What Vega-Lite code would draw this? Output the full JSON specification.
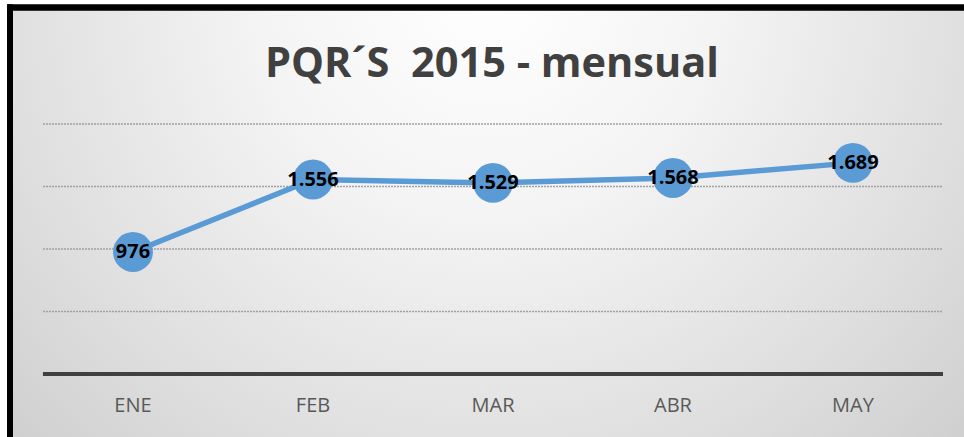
{
  "$schema": "https://vega.github.io/schema/vega-lite/v6.json",
  "width": 954,
  "height": 429.5,
  "autosize": {"type": "none"},
  "padding": {"left": 10, "top": 7.5, "right": 0, "bottom": 0},
  "background": "white",
  "config": {"view": {"stroke": null}, "font": "Open Sans"},
  "title": {
    "text": "PQR´S \u00a02015 - mensual",
    "orient": "top",
    "anchor": "middle",
    "offset": -68.5,
    "baseline": "alphabetic",
    "fontSize": 41.5,
    "fontWeight": "bold",
    "color": "#404040",
    "font": "Open Sans",
    "dx": 5,
    "dy": 46
  },
  "data": {
    "values": [
      {"mes": "ENE", "i": 0, "pqr": 976, "etiqueta": "976"},
      {"mes": "FEB", "i": 1, "pqr": 1556, "etiqueta": "1.556"},
      {"mes": "MAR", "i": 2, "pqr": 1529, "etiqueta": "1.529"},
      {"mes": "ABR", "i": 3, "pqr": 1568, "etiqueta": "1.568"},
      {"mes": "MAY", "i": 4, "pqr": 1689, "etiqueta": "1.689"}
    ]
  },
  "layer": [
    {
      "data": {"values": [{}]},
      "mark": {
        "type": "rect",
        "fill": {
          "gradient": "radial",
          "x1": 0.5, "y1": 0.25, "r1": 0,
          "x2": 0.5, "y2": 0.25, "r2": 0.8,
          "stops": [
            {"offset": 0, "color": "#ffffff"},
            {"offset": 0.3, "color": "#f4f4f4"},
            {"offset": 0.65, "color": "#dedede"},
            {"offset": 1, "color": "#c6c6c6"}
          ]
        }
      },
      "encoding": {}
    },
    {
      "data": {"values": [{"g": 500}, {"g": 1000}, {"g": 1500}, {"g": 2000}]},
      "mark": {"type": "rule", "color": "#a0a0a0", "strokeWidth": 1.5, "strokeDash": [2, 1]},
      "encoding": {
        "y": {"field": "g", "type": "quantitative", "scale": {"domain": [-504, 2932], "nice": false, "zero": false}, "axis": null},
        "x": {"datum": -0.5, "type": "quantitative", "scale": {"domain": [-0.6833, 4.6167], "nice": false, "zero": false}, "axis": null},
        "x2": {"datum": 4.5}
      }
    },
    {
      "mark": {"type": "rule", "color": "#404040", "strokeWidth": 4},
      "encoding": {
        "y": {"datum": 0, "type": "quantitative", "scale": {"domain": [-504, 2932], "nice": false, "zero": false}, "axis": null},
        "x": {"datum": -0.5, "type": "quantitative", "scale": {"domain": [-0.6833, 4.6167], "nice": false, "zero": false}, "axis": null},
        "x2": {"datum": 4.5}
      }
    },
    {
      "mark": {"type": "rule", "color": "#000000", "strokeWidth": 5.5, "strokeCap": "square"},
      "encoding": {
        "y": {"datum": 2932, "type": "quantitative", "scale": {"domain": [-504, 2932], "nice": false, "zero": false}, "axis": null}
      }
    },
    {
      "mark": {"type": "rule", "color": "#000000", "strokeWidth": 5.5, "strokeCap": "square"},
      "encoding": {
        "x": {"datum": -0.6833, "type": "quantitative", "scale": {"domain": [-0.6833, 4.6167], "nice": false, "zero": false}, "axis": null}
      }
    },
    {
      "mark": {"type": "line", "color": "#5b9bd5", "strokeWidth": 5.5},
      "encoding": {
        "x": {"field": "i", "type": "quantitative", "scale": {"domain": [-0.6833, 4.6167], "nice": false, "zero": false}, "axis": null},
        "y": {"field": "pqr", "type": "quantitative", "scale": {"domain": [-504, 2932], "nice": false, "zero": false}, "axis": null}
      }
    },
    {
      "mark": {"type": "circle", "color": "#5b9bd5", "opacity": 1, "size": 1590},
      "encoding": {
        "x": {"field": "i", "type": "quantitative", "scale": {"domain": [-0.6833, 4.6167], "nice": false, "zero": false}, "axis": null},
        "y": {"field": "pqr", "type": "quantitative", "scale": {"domain": [-504, 2932], "nice": false, "zero": false}, "axis": null}
      }
    },
    {
      "mark": {"type": "text", "font": "Open Sans", "fontWeight": "bold", "fontSize": 20, "color": "#000000", "baseline": "middle", "align": "center"},
      "encoding": {
        "x": {"field": "i", "type": "quantitative", "scale": {"domain": [-0.6833, 4.6167], "nice": false, "zero": false}, "axis": null},
        "y": {"field": "pqr", "type": "quantitative", "scale": {"domain": [-504, 2932], "nice": false, "zero": false}, "axis": null},
        "text": {"field": "etiqueta"}
      }
    },
    {
      "mark": {"type": "text", "font": "Open Sans", "fontSize": 20, "color": "#595959", "baseline": "middle", "align": "center"},
      "encoding": {
        "x": {"field": "i", "type": "quantitative", "scale": {"domain": [-0.6833, 4.6167], "nice": false, "zero": false}, "axis": null},
        "y": {"datum": -256, "type": "quantitative", "scale": {"domain": [-504, 2932], "nice": false, "zero": false}, "axis": null},
        "text": {"field": "mes"}
      }
    }
  ]
}
